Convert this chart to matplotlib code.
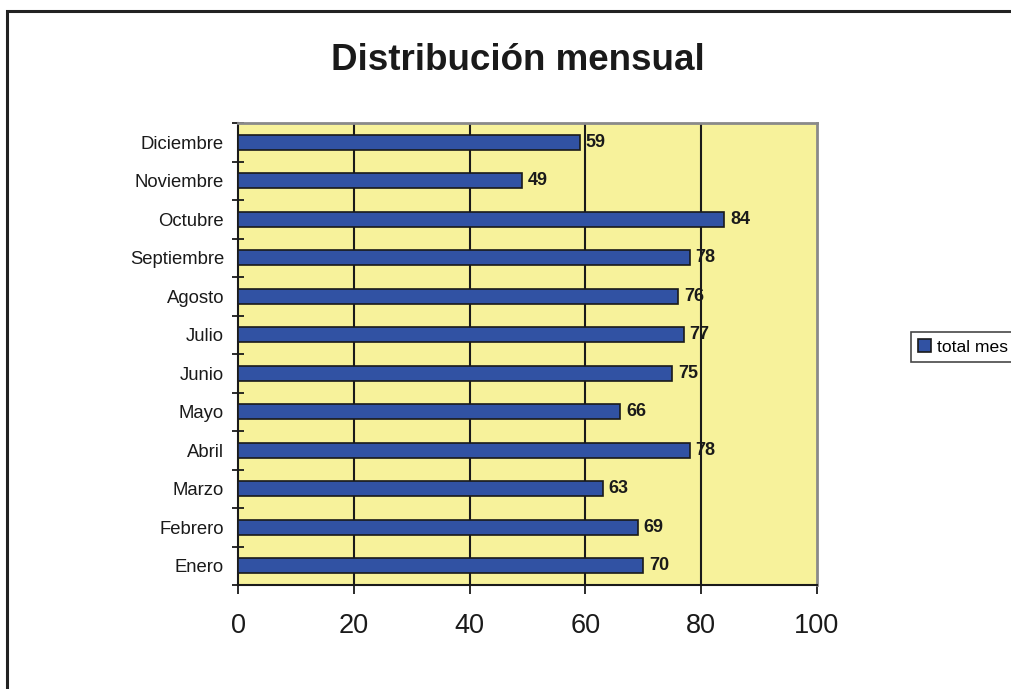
import numpy as np
import matplotlib.pyplot as plt
from matplotlib.patches import Rectangle

plt.rcParams['font.family'] = ['Liberation Sans', 'DejaVu Sans']

meses = ['Enero', 'Febrero', 'Marzo', 'Abril', 'Mayo', 'Junio',
         'Julio', 'Agosto', 'Septiembre', 'Octubre', 'Noviembre', 'Diciembre']
total_mes = [70, 69, 63, 78, 66, 75, 77, 76, 78, 84, 49, 59]
x_ticks = [0, 20, 40, 60, 80, 100]

fig = plt.figure(figsize=(10.11, 6.89), dpi=100)
ax = fig.add_axes([238 / 1011, 1 - 585 / 689, (817 - 238) / 1011, (585 - 123) / 689])

# outer frame of the chart (right and bottom fall outside the image)
fig.patches.append(Rectangle((7 / 1011, -0.1), 1.2, 1 - 11 / 689 + 0.1,
                             transform=fig.transFigure, fill=False,
                             edgecolor='#222222', linewidth=2.2))

pos = np.arange(len(meses))
ax.set_facecolor('#F7F29B')
bars = ax.barh(pos, total_mes, height=0.4, color='#3152A3',
               edgecolor='#1a1a1a', linewidth=1.2, label='total mes', zorder=3)

for p, v in zip(pos, total_mes):
    ax.text(v + 1.0, p, str(v), va='center', ha='left',
            fontsize=13, fontweight='bold', color='#1a1a1a', zorder=4)

ax.set_xlim(0, 100)
ax.set_ylim(-0.5, len(meses) - 0.5)
for g in x_ticks[1:-1]:
    ax.axvline(g, color='#1a1a1a', linewidth=1.5, zorder=1)

ax.set_xticks(x_ticks)
ax.set_xticklabels([str(t) for t in x_ticks], fontsize=19.5)
ax.tick_params(axis='x', length=6.5, width=1.3, direction='out', pad=14,
               colors='#1a1a1a')

# labels centred on each bar, ticks between categories
ax.set_yticks(np.arange(-0.5, len(meses), 1.0))
ax.set_yticklabels([])
ax.set_yticks(pos, minor=True)
ax.set_yticklabels(meses, minor=True, fontsize=13.3)
ax.tick_params(axis='y', which='major', length=9, width=1.3, direction='inout',
               colors='#1a1a1a')
ax.tick_params(axis='y', which='minor', length=0, pad=10, colors='#1a1a1a')

ax.spines['left'].set_color('#1a1a1a')
ax.spines['bottom'].set_color('#1a1a1a')
ax.spines['left'].set_linewidth(1.5)
ax.spines['bottom'].set_linewidth(1.5)
ax.spines['top'].set_color('#8a8a8a')
ax.spines['right'].set_color('#8a8a8a')
ax.spines['top'].set_linewidth(2)
ax.spines['right'].set_linewidth(2)

fig.text(518 / 1011, 1 - 60 / 689, 'Distribución mensual', ha='center',
         va='center', fontsize=26.5, fontweight='bold', color='#1a1a1a')

leg = fig.legend(handles=[bars], labels=['total mes'], loc='upper left',
                 bbox_to_anchor=(911 / 1011, 1 - 332 / 689), fontsize=12.6,
                 frameon=True, fancybox=False, borderpad=0.4,
                 handlelength=0.75, handleheight=0.75, handletextpad=0.35,
                 borderaxespad=0)
leg.get_frame().set_edgecolor('#1a1a1a')
leg.get_frame().set_linewidth(1.2)

fig.savefig('out.png', dpi=100)
